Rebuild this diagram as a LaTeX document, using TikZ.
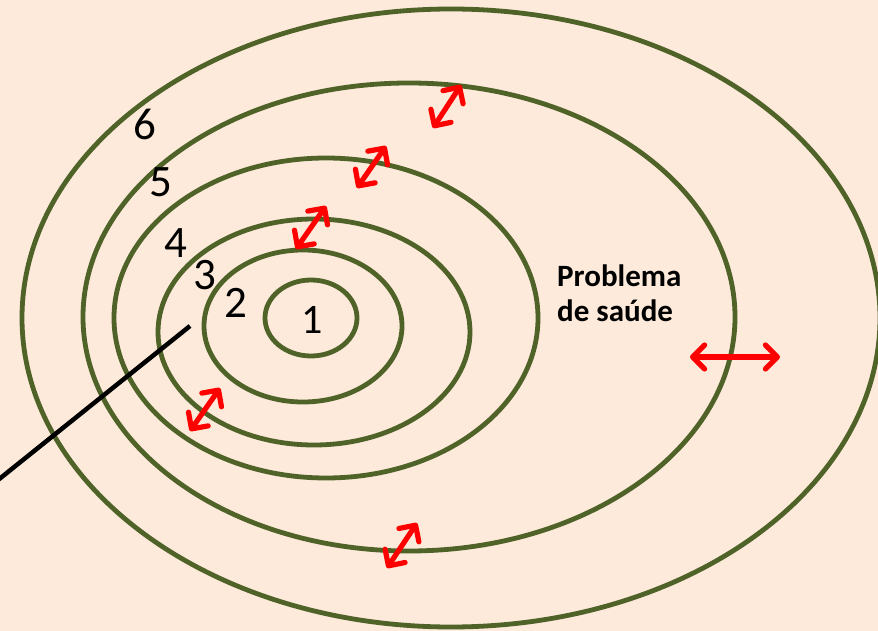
\documentclass[tikz,border=0pt]{standalone}
\usepackage{fontspec}
\setmainfont{Carlito}
\usetikzlibrary{arrows.meta}
\definecolor{bg}{HTML}{FDEADA}
\definecolor{olive}{HTML}{4F6228}
\tikzset{
  ring/.style={draw=olive, line width=4.8pt},
  redarrow/.style={draw=red, line width=5.2pt, line cap=round,
    {Straight Barb[length=12pt,width=24pt,line cap=round,line join=round]}-{Straight Barb[length=12pt,width=24pt,line cap=round,line join=round]}},
  pointer/.style={draw=black, line width=4.5pt},
  num/.style={font=\fontsize{45}{50}\selectfont, inner sep=0pt, text=black},
  lbl/.style={font=\fontsize{31}{35}\selectfont\bfseries, inner sep=0pt, align=left, anchor=north west}
}
\begin{document}
\begin{tikzpicture}[x=1pt,y=-1pt]
\fill[bg] (0,0) rectangle (878,631);
\useasboundingbox (0,0) rectangle (878,631);
% rings
\draw[ring] (451,318) ellipse [x radius=429, y radius=309];
\draw[ring] (409,317) ellipse [x radius=326, y radius=234];
\draw[ring] (326,318) ellipse [x radius=212, y radius=160];
\draw[ring] (314,332) ellipse [x radius=156, y radius=113];
\draw[ring] (303,326) ellipse [x radius=99, y radius=76];
\draw[ring] (311,318) ellipse [x radius=46, y radius=38];
% labels
\node[num] (n6) at (145,124) {6};
\node[num] (n5) at (161,182) {5};
\node[num] (n4) at (176,243) {4};
\node[num] (n3) at (205,275) {3};
\node[num] (n2) at (236,303) {2};
\node[num, font=\fontsize{42}{46}\selectfont] (n1) at (312,320) {1};
\node[lbl] (ps) at (557,265) {Problema\\de saúde};
% pointer line
\coordinate (pa) at (190,326);
\coordinate (pb) at (-2,480);
\draw[pointer] (pa) -- (pb);
% red arrows
\coordinate (a1s) at (433,128); \coordinate (a1e) at (461,85);
\coordinate (a2s) at (357,188); \coordinate (a2e) at (386,146);
\coordinate (a3s) at (296,249); \coordinate (a3e) at (326,206);
\coordinate (a4s) at (190,431); \coordinate (a4e) at (220,388);
\coordinate (a5s) at (387,568); \coordinate (a5e) at (417,523);
\coordinate (a6s) at (690,357); \coordinate (a6e) at (780,357);
\draw[redarrow] (a1s) -- (a1e);
\draw[redarrow] (a2s) -- (a2e);
\draw[redarrow] (a3s) -- (a3e);
\draw[redarrow] (a4s) -- (a4e);
\draw[redarrow] (a5s) -- (a5e);
\draw[redarrow] (a6s) -- (a6e);
\end{tikzpicture}
\end{document}
